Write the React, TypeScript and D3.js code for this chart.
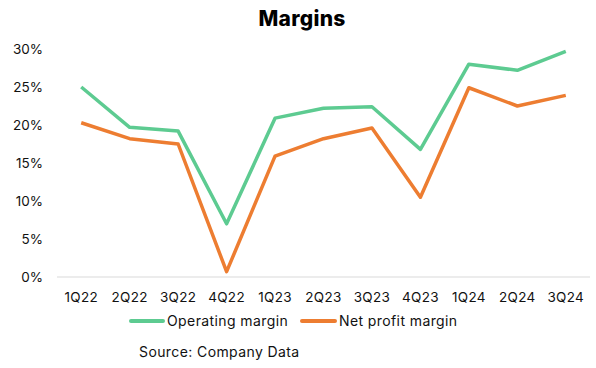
import * as d3 from 'd3';
import React from 'react';

const quarters = ['1Q22', '2Q22', '3Q22', '4Q22', '1Q23', '2Q23', '3Q23', '4Q23', '1Q24', '2Q24', '3Q24'];
const operatingMargin = [25.0, 19.7, 19.2, 7.0, 20.9, 22.2, 22.4, 16.8, 28.0, 27.2, 29.7];
const netProfitMargin = [20.3, 18.2, 17.5, 0.7, 15.9, 18.2, 19.6, 10.5, 24.9, 22.5, 23.9];
const yTicks = [0, 5, 10, 15, 20, 25, 30];

const font = 'Inter, "Noto Sans", sans-serif';

export default function App() {
  const width = 596;
  const height = 368;
  const margin = { top: 49, right: 6, bottom: 91, left: 57 };

  const x = d3.scalePoint<string>()
    .domain(quarters)
    .range([margin.left, width - margin.right])
    .padding(0.5);

  const y = d3.scaleLinear()
    .domain([0, 30])
    .range([height - margin.bottom, margin.top]);

  const line = d3.line<number>()
    .x((_, i) => x(quarters[i])!)
    .y(d => y(d));

  const series = [
    { name: 'Operating margin', values: operatingMargin, color: '#5dcb91' },
    { name: 'Net profit margin', values: netProfitMargin, color: '#ed7d31' },
  ];

  return (
    <svg width={width} height={height} style={{ position: 'absolute', left: 0, top: 0 }} fontFamily={font}>
      <text x={302} y={26} textAnchor="middle" fontSize={21} fontWeight={800} fill="#000" letterSpacing={0.3}>Margins</text>

      {/* y axis labels */}
      {yTicks.map(t => (
        <text key={t} x={43} y={y(t)} dy="0.35em" textAnchor="end" fontSize={13.5} fill="#111">{t}%</text>
      ))}

      {/* baseline */}
      <line x1={margin.left} x2={width - margin.right} y1={y(0)} y2={y(0)} stroke="#d9d9d9" strokeWidth={1} />

      {/* x labels */}
      {quarters.map(q => (
        <text key={q} x={x(q)} y={y(0) + 20} dy="0.35em" textAnchor="middle" fontSize={13.5} fill="#111" letterSpacing={0.3}>{q}</text>
      ))}

      {series.map(s => (
        <path key={s.name} d={line(s.values)!} fill="none" stroke={s.color} strokeWidth={3.5} strokeLinejoin="round" />
      ))}

      {/* legend */}
      <line x1={131} x2={163} y1={321} y2={321} stroke="#5dcb91" strokeWidth={4} strokeLinecap="round" />
      <text x={167} y={321} dy="0.35em" fontSize={14} fill="#111" letterSpacing={0.4}>Operating margin</text>
      <line x1={302} x2={335} y1={321} y2={321} stroke="#ed7d31" strokeWidth={4} strokeLinecap="round" />
      <text x={339} y={321} dy="0.35em" fontSize={14} fill="#111" letterSpacing={0.4}>Net profit margin</text>

      <text x={139} y={352} dy="0.35em" fontSize={14} fill="#111" letterSpacing={0.4}>Source: Company Data</text>
    </svg>
  );
}
